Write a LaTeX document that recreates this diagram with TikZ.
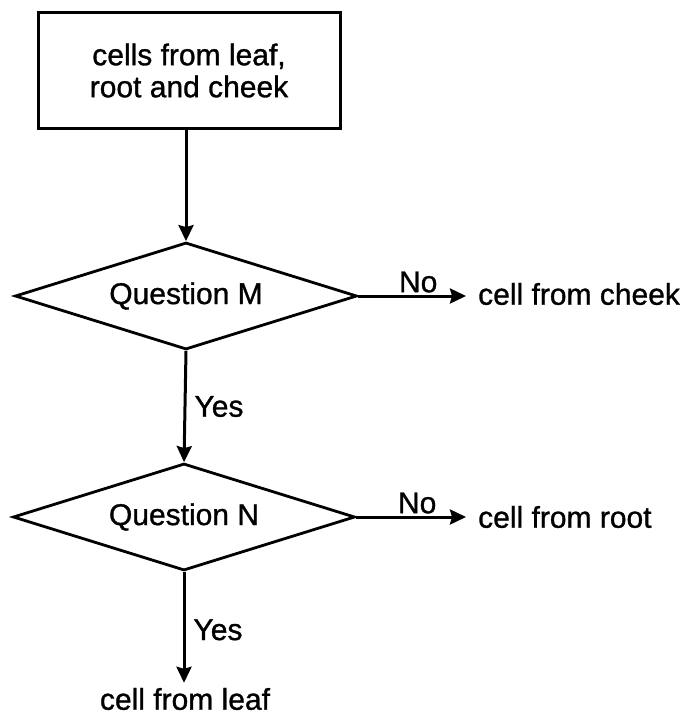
\documentclass[tikz,border=0pt]{standalone}
\usepackage{fontspec}
\setmainfont[FakeBold=1]{Liberation Sans}
\usetikzlibrary{shapes.geometric,arrows.meta}
\begin{document}
\begin{tikzpicture}[x=1pt,y=-1pt,
  every node/.style={font=\fontsize{30}{32}\selectfont},
  boxnode/.style={draw,line width=3pt,minimum width=302pt,minimum height=115pt,align=center,inner sep=0pt},
  decision/.style={draw,line width=2.8pt,shape=diamond,shape aspect=3.2,minimum width=342pt,minimum height=107pt,inner sep=0pt},
  plain/.style={inner sep=0pt},
  conn/.style={line width=3pt,-{Stealth[length=16pt,width=15pt,inset=2pt]}},
  lbl/.style={inner sep=0pt}]
\useasboundingbox (0,0) rectangle (688,717);
\node[boxnode] (start) at (189,70.5) {cells from leaf,\\root and cheek};
\node[decision] (M) at (186,296) {Question M};
\node[decision] (N) at (184,517) {Question N};
\node[plain,anchor=west] (cheek) at (478,294) {cell from cheek};
\node[plain,anchor=west] (root) at (478,517) {cell from root};
\node[plain] (leaf) at (185,699) {cell from leaf};
\draw[conn] (start.south -| M.north) -- (M.north);
\draw[conn,shorten >=12pt] (M.east) -- node[lbl,above=2pt] {No} (M.east -| cheek.west);
\draw[conn,shorten >=12pt] (N.east) -- node[lbl,above=2pt] {No} (root.west);
\draw[conn] (M.south) -- node[lbl,right=8pt] {Yes} (N.north);
\draw[conn,shorten >=5pt] (N.south) -- node[lbl,right=8pt,pos=0.5] {Yes} (N.south |- leaf.north);
\end{tikzpicture}
\end{document}
